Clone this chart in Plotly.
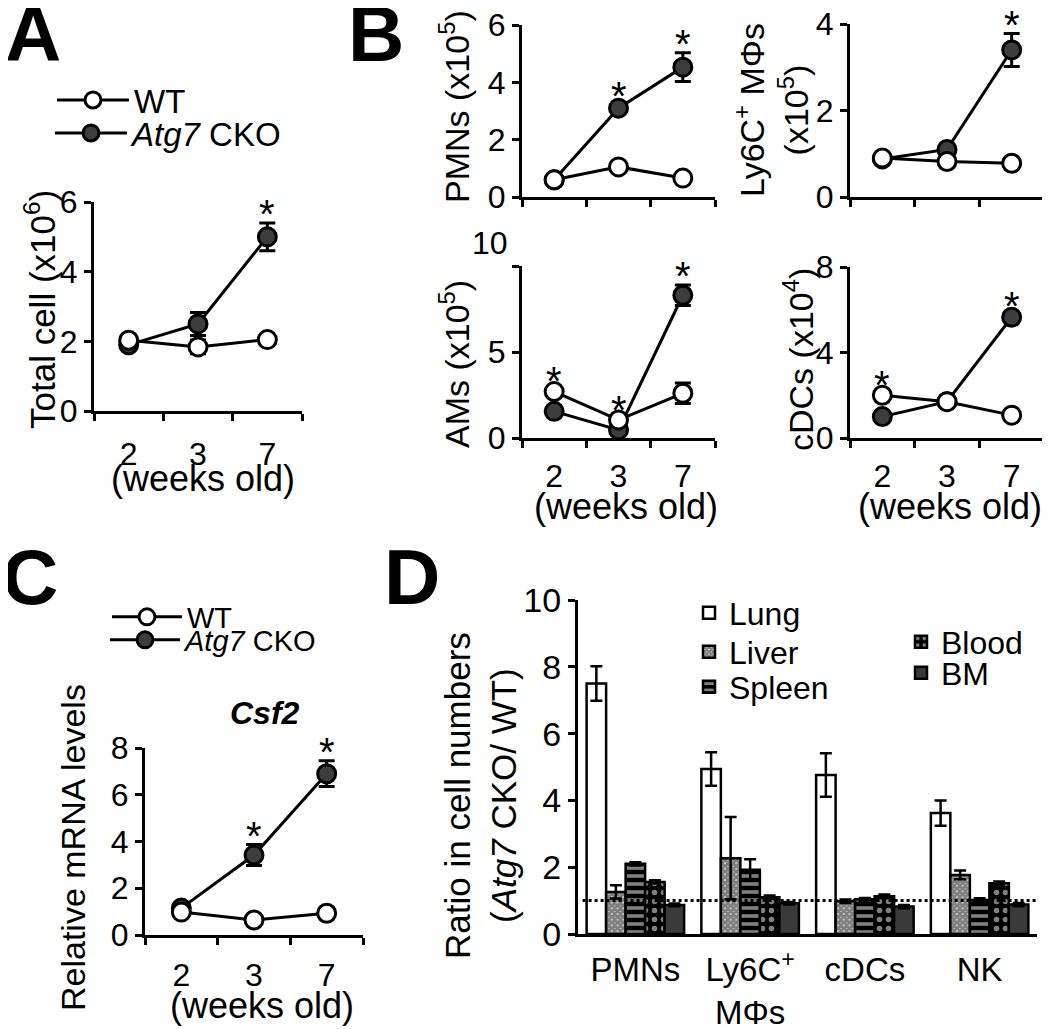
import plotly.graph_objects as go

W, H = 1050, 1029
PAGE_OFFSET = 8  # default body margin of the html page
FONT = "Liberation Sans, Arial, Helvetica, sans-serif"
CKO_FILL = "#3d3d3d"

WEEKS = ["2", "3", "7"]

# A: total cells (x10^6)
A_WT = [2.03, 1.84, 2.05]
A_WT_ERR = [0.08, 0.2, 0.08]
A_CKO = [1.9, 2.5, 5.0]
A_CKO_ERR = [0.08, 0.33, 0.4]
A_STARS = [2]

# B: PMNs (x10^5)
PMN_WT = [0.6, 1.05, 0.66]
PMN_WT_ERR = [0.05, 0.1, 0.05]
PMN_CKO = [0.6, 3.1, 4.53]
PMN_CKO_ERR = [0.05, 0.1, 0.5]
PMN_STARS = [1, 2]

# B: Ly6C+ MPhis (x10^5)
LY_WT = [0.9, 0.82, 0.78]
LY_WT_ERR = [0.05, 0.05, 0.05]
LY_CKO = [0.88, 1.1, 3.4]
LY_CKO_ERR = [0.05, 0.05, 0.38]
LY_STARS = [2]

# B: AMs (x10^5)
AM_WT = [2.7, 1.05, 2.6]
AM_WT_ERR = [0.1, 0.05, 0.6]
AM_CKO = [1.55, 0.47, 8.3]
AM_CKO_ERR = [0.1, 0.05, 0.6]
AM_STARS = [0, 1, 2]

# B: cDCs (x10^4)
DC_WT = [2.0, 1.7, 1.07]
DC_WT_ERR = [0.05, 0.05, 0.05]
DC_CKO = [1.0, 1.7, 5.65]
DC_CKO_ERR = [0.05, 0.05, 0.1]
DC_STARS = [0, 2]

# C: Csf2 relative mRNA
C_WT = [0.98, 0.64, 0.93]
C_WT_ERR = [0.05, 0.05, 0.05]
C_CKO = [1.15, 3.42, 6.9]
C_CKO_ERR = [0.05, 0.45, 0.55]
C_STARS = [1, 2]

# D: ratio in cell numbers (Atg7 CKO / WT)
CELLS = ["PMNs", "Ly6C+ MΦs", "cDCs", "NK"]
CELL_LABELS = ["PMNs", "Ly6C<sup>+</sup><br>MΦs", "cDCs", "NK"]
TISSUES = ["Lung", "Liver", "Spleen", "Blood", "BM"]
RATIO = {
    "Lung": [7.5, 4.94, 4.76, 3.62],
    "Liver": [1.26, 2.27, 0.98, 1.77],
    "Spleen": [2.1, 1.92, 1.04, 1.02],
    "Blood": [1.56, 1.1, 1.13, 1.52],
    "BM": [0.87, 0.92, 0.82, 0.88],
}
RATIO_ERR = {
    "Lung": [0.52, 0.5, 0.65, 0.38],
    "Liver": [0.2, 1.23, 0.05, 0.13],
    "Spleen": [0.05, 0.32, 0.04, 0.05],
    "Blood": [0.05, 0.05, 0.05, 0.05],
    "BM": [0.04, 0.04, 0.05, 0.05],
}
REF_RATIO = 1.0


def fx(px):
    return (px - PAGE_OFFSET) / W


def fy(py):
    return 1 - (py - PAGE_OFFSET) / H


fig = go.Figure()

axis_base = dict(showline=True, linecolor="black", linewidth=3, ticks="outside",
                 ticklen=7, tickwidth=3, tickcolor="black", showgrid=False,
                 zeroline=False, automargin=False, ticklabeloverflow="allow",
                 tickfont=dict(size=32, color="black", family=FONT))


def week_xaxis(x0, x1, y_anchor, labels=True, standoff=9):
    ax = dict(axis_base)
    ax.update(domain=[fx(x0), fx(x1)], anchor=y_anchor, range=[-0.5, len(WEEKS) - 0.5],
              tickmode="array", tickvals=list(range(len(WEEKS))), ticktext=WEEKS,
              ticks="", showticklabels=labels, ticklabelstandoff=standoff,
              minor=dict(tick0=-0.5, dtick=1, ticks="outside", ticklen=7,
                         tickwidth=3, tickcolor="black"))
    return ax


def value_yaxis(y0, y1, x_anchor, top, step):
    ax = dict(axis_base)
    ax.update(domain=[fy(y1), fy(y0)], anchor=x_anchor, range=[0, top], dtick=step,
              tick0=0)
    return ax


stars = []


def add_line_panel(n, wt, wt_err, cko, cko_err, star_idx, leg=None):
    xs = list(range(len(WEEKS)))
    xa = "x" if n == 1 else "x%d" % n
    ya = "y" if n == 1 else "y%d" % n
    common = dict(x=xs, xaxis=xa, yaxis=ya, mode="lines+markers", cliponaxis=False,
                  line=dict(color="black", width=3))
    fig.add_trace(go.Scatter(
        y=cko, name="<i>Atg7</i> CKO",
        error_y=dict(type="data", array=cko_err, color="black", thickness=3, width=8),
        marker=dict(size=18, color=CKO_FILL, line=dict(color="black", width=3)),
        showlegend=leg is not None, legend=leg[1] if leg else None, **common))
    fig.add_trace(go.Scatter(
        y=wt, name="WT",
        error_y=dict(type="data", array=wt_err, color="black", thickness=3, width=8),
        marker=dict(size=18, color="white", line=dict(color="black", width=3)),
        showlegend=leg is not None, legend=leg[0] if leg else None, **common))
    for i in star_idx:
        top = max(wt[i] + wt_err[i], cko[i] + cko_err[i])
        stars.append(dict(x=i, y=top, xref=xa, yref=ya, text="*", showarrow=False,
                          yanchor="middle", yshift=9, font=dict(size=40, color="black")))


add_line_panel(1, A_WT, A_WT_ERR, A_CKO, A_CKO_ERR, A_STARS, ("legend", "legend2"))
add_line_panel(2, PMN_WT, PMN_WT_ERR, PMN_CKO, PMN_CKO_ERR, PMN_STARS)
add_line_panel(3, LY_WT, LY_WT_ERR, LY_CKO, LY_CKO_ERR, LY_STARS)
add_line_panel(4, AM_WT, AM_WT_ERR, AM_CKO, AM_CKO_ERR, AM_STARS)
add_line_panel(5, DC_WT, DC_WT_ERR, DC_CKO, DC_CKO_ERR, DC_STARS)
add_line_panel(6, C_WT, C_WT_ERR, C_CKO, C_CKO_ERR, C_STARS, ("legend3", "legend4"))

# D: grouped patterned bars
bar_style = {
    "Lung": dict(color="white"),
    "Liver": dict(color="white", pattern=dict(shape="x", size=4, solidity=0.9,
                                              fgcolor="black", bgcolor="white")),
    "Spleen": dict(color="black", pattern=dict(shape="-", size=8, solidity=0.45,
                                               fgcolor="white", bgcolor="black")),
    "Blood": dict(color="black", pattern=dict(shape=".", size=9, solidity=0.3,
                                              fgcolor="white", bgcolor="black")),
    "BM": dict(color="#3a3a3a"),
}
bar_legend = {"Lung": "legend5", "Liver": "legend6", "Spleen": "legend7",
              "Blood": "legend8", "BM": "legend9"}
for t in TISSUES:
    m = dict(bar_style[t])
    m["line"] = dict(color="black", width=2.5)
    fig.add_trace(go.Bar(
        x=CELLS, y=RATIO[t], name=t, xaxis="x7", yaxis="y7", marker=m,
        error_y=dict(type="data", array=RATIO_ERR[t], color="black", thickness=2.5, width=6),
        legend=bar_legend[t], cliponaxis=False))

layout = dict(
    width=W, height=H, margin=dict(l=0, r=0, t=0, b=0, autoexpand=False),
    paper_bgcolor="white", plot_bgcolor="white",
    font=dict(family=FONT, color="black"),
    barmode="group", bargap=0.15, bargroupgap=0,
    xaxis=week_xaxis(94, 302, "y", standoff=13),
    yaxis=value_yaxis(202, 411, "x", 6, 2),
    xaxis2=week_xaxis(522, 715, "y2", labels=False),
    yaxis2=value_yaxis(25, 197, "x2", 6, 2),
    xaxis3=week_xaxis(850, 1044, "y3", labels=False),
    yaxis3=value_yaxis(24, 197, "x3", 4, 2),
    xaxis4=week_xaxis(522, 715, "y4", standoff=8),
    yaxis4=value_yaxis(266, 438, "x4", 10, 5),
    xaxis5=week_xaxis(850, 1044, "y5", standoff=8),
    yaxis5=value_yaxis(267, 438, "x5", 8, 4),
    xaxis6=week_xaxis(145, 363, "y6", standoff=10),
    yaxis6=value_yaxis(748, 935, "x6", 8, 2),
)
xd = dict(axis_base)
xd.update(domain=[fx(578), fx(1037)], anchor="y7", type="category", ticks="",
          tickmode="array", tickvals=CELLS, ticktext=CELL_LABELS, ticklabelstandoff=4,
          tickfont=dict(size=33, color="black", family=FONT))
yd = value_yaxis(600, 934, "x7", 10, 2)
yd["tickfont"] = dict(size=34, color="black", family=FONT)
layout["xaxis7"] = xd
layout["yaxis7"] = yd
layout["yaxis4"]["tickvals"] = [0, 5, 10]
layout["yaxis4"]["ticktext"] = ["0", "5", ""]
layout["yaxis4"]["tickmode"] = "array"


def legend_at(x_px, y_px, size, width=66):
    return dict(x=fx(x_px), y=fy(y_px), xanchor="left", yanchor="middle",
                bgcolor="rgba(0,0,0,0)", borderwidth=0, itemwidth=width,
                font=dict(size=size, color="black", family=FONT), tracegroupgap=0)


layout["legend"] = legend_at(52, 100, 33, 72)
layout["legend2"] = legend_at(50, 133, 33, 72)
layout["legend3"] = legend_at(107, 617, 29, 70)
layout["legend4"] = legend_at(105, 640, 29, 70)
layout["legend5"] = legend_at(689, 613, 32, 30)
layout["legend6"] = legend_at(689, 652, 32, 30)
layout["legend7"] = legend_at(689, 687, 32, 30)
layout["legend8"] = legend_at(901, 642, 32, 30)
layout["legend9"] = legend_at(901, 673, 32, 30)

notes = []


def text_at(x_px, y_px, text, size, angle=0, bold=False):
    notes.append(dict(x=fx(x_px), y=fy(y_px), xref="paper", yref="paper", text=text,
                      showarrow=False, xanchor="center", yanchor="middle",
                      textangle=angle,
                      font=dict(size=size, color="black", family=FONT,
                                weight="bold" if bold else "normal")))


# panel letters
text_at(33, 34, "A", 78, bold=True)
text_at(376, 34, "B", 78, bold=True)
text_at(30, 577, "C", 78, bold=True)
text_at(412, 577, "D", 78, bold=True)
# axis titles
text_at(40, 310, "Total cell (x10<sup>6</sup>)", 35, -90)
text_at(454, 107, "PMNs (x10<sup>5</sup>)", 34, -90)
text_at(771, 110, "Ly6C<sup>+</sup> MΦs<br>(x10<sup>5</sup>)", 34, -90)
text_at(454, 364, "AMs (x10<sup>5</sup>)", 34, -90)
text_at(798, 360, "cDCs (x10<sup>4</sup>)", 34, -90)
text_at(73, 848, "Relative mRNA levels", 34, -90)
text_at(480, 796, "Ratio in cell numbers<br>(<i>Atg7</i> CKO/ WT)", 35, -90)
text_at(203, 478, "(weeks old)", 36)
text_at(626, 507, "(weeks old)", 36)
text_at(950, 507, "(weeks old)", 36)
text_at(262, 1005, "(weeks old)", 36)
text_at(490, 243, "10", 32)
text_at(265, 713, "<b><i>Csf2</i></b>", 32)

layout["annotations"] = notes + stars
layout["shapes"] = [dict(type="line", xref="x7 domain", yref="y7", x0=0.01, x1=1,
                         y0=REF_RATIO, y1=REF_RATIO, layer="above",
                         line=dict(color="black", width=3, dash="dot"))]

fig.update_layout(**layout)
fig.write_html("out.html")
